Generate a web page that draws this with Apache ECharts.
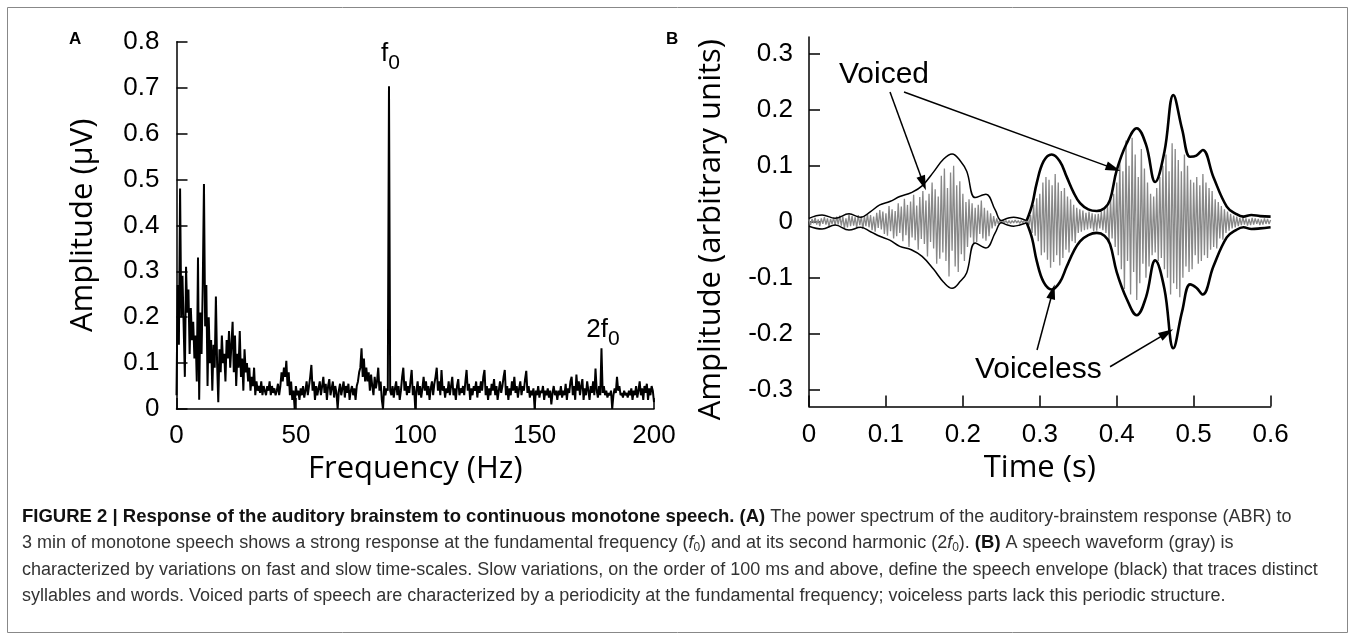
<!DOCTYPE html>
<html>
<head>
<meta charset="utf-8">
<script src="https://cdn.jsdelivr.net/npm/echarts@6/dist/echarts.min.js"></script>
<style>
html, body { margin: 0; padding: 0; background: #fff; }
#main { width: 1355px; height: 639px; }
</style>
</head>
<body>
<div id="main"></div>
<script>
// Panel A: power spectrum of the ABR, one value every 0.5 Hz from 0 to 200 Hz
const specStep = 0.5;
const spectrum = [
  0.03,0.27,0.14,0.48,0.2,0.29,0.18,0.07,0.31,0.21,0.26,0.12,0.22,0.15,0.19,0.11,0.16,0.06,0.33,0.02,
  0.21,0.12,0.27,0.49,0.18,0.27,0.05,0.2,0.1,0.15,0.04,0.14,0.09,0.245,0.1,0.015,0.13,0.08,0.16,0.1,
  0.12,0.06,0.15,0.11,0.17,0.09,0.14,0.19,0.08,0.16,0.05,0.12,0.09,0.17,0.07,0.11,0.04,0.13,0.08,0.1,
  0.06,0.09,0.04,0.07,0.05,0.09,0.03,0.06,0.04,0.05,0.035,0.06,0.03,0.05,0.04,0.03,0.05,0.04,0.06,0.03,
  0.05,0.035,0.045,0.03,0.04,0.055,0.03,0.05,0.08,0.06,0.09,0.07,0.105,0.05,0.08,0.03,0.06,0.02,0.04,0.0,
  0.05,0.03,0.04,0.02,0.045,0.03,0.05,0.025,0.04,0.06,0.03,0.05,0.07,0.096,0.04,0.06,0.02,0.05,0.03,0.045,
  0.06,0.03,0.05,0.07,0.035,0.055,0.02,0.05,0.065,0.03,0.045,0.06,0.025,0.05,0.035,0.0,0.04,0.055,0.03,0.045,
  0.06,0.025,0.05,0.035,0.055,0.02,0.04,0.05,0.03,0.045,0.02,0.05,0.06,0.08,0.09,0.132,0.07,0.11,0.06,0.09,
  0.06,0.08,0.04,0.075,0.05,0.03,0.07,0.045,0.06,0.09,0.04,0.06,0.02,0.0,0.05,0.03,0.045,0.04,0.703,0.04,
  0.03,0.05,0.025,0.045,0.06,0.03,0.05,0.02,0.04,0.07,0.09,0.04,0.06,0.03,0.05,0.035,0.06,0.085,0.03,0.05,
  0.0,0.04,0.06,0.03,0.05,0.025,0.045,0.07,0.04,0.06,0.03,0.05,0.02,0.045,0.06,0.03,0.055,0.07,0.09,0.04,
  0.06,0.03,0.085,0.04,0.05,0.025,0.045,0.035,0.06,0.03,0.05,0.07,0.03,0.045,0.02,0.05,0.065,0.03,0.045,0.035,
  0.05,0.03,0.06,0.085,0.04,0.055,0.02,0.045,0.03,0.05,0.04,0.06,0.025,0.05,0.035,0.06,0.04,0.07,0.085,0.03,
  0.05,0.02,0.045,0.03,0.055,0.04,0.065,0.03,0.05,0.02,0.04,0.06,0.035,0.05,0.07,0.085,0.03,0.05,0.02,0.045,
  0.03,0.06,0.04,0.07,0.035,0.05,0.025,0.045,0.06,0.03,0.05,0.04,0.065,0.083,0.035,0.05,0.025,0.04,0.03,0.045,
  0.0,0.04,0.03,0.05,0.025,0.04,0.035,0.05,0.02,0.04,0.03,0.045,0.025,0.04,0.01,0.035,0.05,0.03,0.04,0.02,
  0.04,0.03,0.05,0.025,0.04,0.03,0.055,0.02,0.045,0.035,0.06,0.07,0.03,0.05,0.02,0.075,0.04,0.06,0.03,0.05,
  0.065,0.02,0.045,0.03,0.06,0.04,0.02,0.05,0.035,0.06,0.03,0.088,0.04,0.025,0.05,0.03,0.132,0.035,0.05,0.03,
  0.04,0.025,0.035,0.03,0.04,0.0,0.03,0.045,0.035,0.07,0.04,0.05,0.03,0.035,0.025,0.04,0.03,0.035,0.025,0.04,
  0.03,0.045,0.02,0.04,0.03,0.05,0.025,0.04,0.06,0.03,0.045,0.02,0.05,0.035,0.055,0.02,0.045,0.03,0.05,0.04,
  0.015
];
const f0 = 89;
const f2 = 178;
const f2Peak = 0.132;

// Panel B: speech waveform, one sample every 2 ms from 0 to 0.6 s
const waveStep = 0.002;
const wave = [
  0.004,-0.006,0.005,-0.003,0.007,-0.005,0.004,-0.008,0.006,-0.004,
  0.008,-0.005,0.006,-0.009,0.005,-0.004,0.007,-0.006,0.009,-0.005,
  0.011,-0.007,0.009,-0.012,0.006,-0.01,0.013,-0.008,0.01,-0.007,
  0.008,-0.011,0.012,-0.006,0.009,-0.013,0.01,-0.008,0.014,-0.01,
  0.012,-0.015,0.009,-0.018,0.016,-0.011,0.021,-0.014,0.018,-0.022,
  0.015,-0.025,0.028,-0.017,0.022,-0.03,0.019,-0.026,0.033,-0.02,
  0.027,-0.035,0.041,-0.024,0.03,-0.045,0.036,-0.028,0.048,-0.033,
  0.029,-0.05,0.044,-0.031,0.055,-0.04,0.038,-0.062,0.05,-0.036,
  0.07,-0.048,0.058,-0.075,0.045,-0.066,0.082,-0.055,0.095,-0.07,
  0.06,-0.098,0.088,-0.052,0.1,-0.08,0.065,-0.09,0.072,-0.058,
  0.05,-0.07,0.035,-0.045,0.04,-0.028,0.033,-0.04,0.025,-0.036,
  0.03,-0.022,0.038,-0.03,0.025,-0.034,0.02,-0.026,0.015,-0.012,
  0.01,-0.008,0.006,-0.004,0.003,-0.002,0.003,-0.002,0.002,-0.003,
  0.002,-0.003,0.002,-0.002,0.003,-0.002,0.002,-0.003,0.002,-0.002,
  0.003,-0.002,0.004,-0.006,0.012,-0.02,0.03,-0.025,0.042,-0.035,
  0.05,-0.06,0.07,-0.055,0.08,-0.068,0.075,-0.082,0.065,-0.072,
  0.085,-0.06,0.07,-0.078,0.055,-0.065,0.06,-0.05,0.045,-0.055,
  0.04,-0.035,0.03,-0.038,0.025,-0.02,0.022,-0.018,0.02,-0.015,
  0.016,-0.014,0.018,-0.012,0.015,-0.017,0.013,-0.016,0.014,-0.012,
  0.018,-0.015,0.022,-0.02,0.028,-0.035,0.04,-0.03,0.05,-0.045,
  0.07,-0.06,0.11,-0.085,0.09,-0.12,0.145,-0.07,0.1,-0.13,
  0.15,-0.09,0.12,-0.14,0.08,-0.11,0.13,-0.075,0.095,-0.1,
  0.07,-0.08,0.05,-0.06,0.045,-0.055,0.06,-0.07,0.08,-0.065,
  0.1,-0.085,0.12,-0.1,0.09,-0.13,0.14,-0.11,0.13,-0.12,
  0.11,-0.135,0.09,-0.1,0.12,-0.08,0.1,-0.09,0.075,-0.085,
  0.07,-0.06,0.08,-0.075,0.065,-0.07,0.085,-0.06,0.07,-0.065,
  0.06,-0.05,0.055,-0.045,0.04,-0.048,0.035,-0.03,0.028,-0.032,
  0.022,-0.02,0.018,-0.016,0.014,-0.012,0.011,-0.01,0.009,-0.008,
  0.007,-0.006,0.008,-0.005,0.006,-0.007,0.005,-0.006,0.007,-0.005,
  0.006,-0.004,0.005,-0.006,0.004,-0.005,0.006,-0.004,0.005,-0.004,
  0.003
];

// speech envelope, first syllable (thin line)
const envThinT  = [0, 0.017, 0.034, 0.052, 0.067, 0.08, 0.092, 0.105, 0.118, 0.133, 0.147, 0.162, 0.175, 0.186, 0.197, 0.205, 0.216, 0.23, 0.242, 0.25, 0.258, 0.266, 0.274, 0.283];
const envThinUp = [0.006, 0.012, 0.006, 0.014, 0.008, 0.018, 0.03, 0.036, 0.045, 0.052, 0.064, 0.089, 0.112, 0.121, 0.108, 0.09, 0.043, 0.049, 0.021, 0.002, 0.006, 0.008, 0.006, 0.002];
const envThinLo = [-0.008, -0.013, -0.006, -0.015, -0.01, -0.018, -0.026, -0.033, -0.044, -0.05, -0.062, -0.085, -0.108, -0.119, -0.106, -0.091, -0.038, -0.047, -0.02, -0.002, -0.006, -0.008, -0.006, -0.002];
// speech envelope, rest of the utterance (thick line)
const envThickT  = [0.283, 0.29, 0.296, 0.305, 0.3155, 0.326, 0.335, 0.344, 0.3523, 0.363, 0.374, 0.384, 0.3913, 0.4, 0.413, 0.426, 0.438, 0.45, 0.462, 0.4736, 0.485, 0.4953, 0.5035, 0.5118, 0.5256, 0.543, 0.555, 0.5646, 0.575, 0.5863, 0.6];
const envThickUp = [0.002, 0.03, 0.069, 0.108, 0.12, 0.108, 0.08, 0.052, 0.033, 0.022, 0.019, 0.024, 0.039, 0.092, 0.14, 0.167, 0.138, 0.071, 0.125, 0.226, 0.165, 0.116, 0.118, 0.128, 0.08, 0.027, 0.014, 0.009, 0.012, 0.01, 0.009];
const envThickLo = [-0.002, -0.03, -0.07, -0.108, -0.121, -0.108, -0.08, -0.053, -0.035, -0.024, -0.02, -0.025, -0.04, -0.09, -0.138, -0.167, -0.135, -0.069, -0.12, -0.226, -0.16, -0.112, -0.118, -0.13, -0.08, -0.028, -0.015, -0.01, -0.013, -0.012, -0.01];

const ampTicksB = [-0.3, -0.2, -0.1, 0, 0.1, 0.2, 0.3];

// annotation arrows: [from, to] in panel B data coordinates
const voicedArrows = [[[0.1053, 0.2316], [0.1486, 0.0686]], [[0.1235, 0.2316], [0.3956, 0.0953]]];
const voicelessArrows = [[[0.2964, -0.229], [0.3167, -0.125]], [[0.3913, -0.259], [0.4649, -0.199]]];

const tickFont = 'Liberation Sans, Arial, sans-serif';
const nameFont = 'Open Sans, sans-serif';

const specData = spectrum.map((v, i) => [i * specStep, v]);
const waveData = wave.map((v, i) => [i * waveStep, v]);
const pair = (t, v) => t.map((x, i) => [x, v[i]]);

function axisBase(grid) {
  return {
    gridIndex: grid,
    type: 'value',
    axisLine: { onZero: false, lineStyle: { color: '#000', width: 1.5 } },
    axisTick: { inside: true, length: 11, lineStyle: { color: '#000', width: 1.5 } },
    axisLabel: { color: '#000', fontSize: 26, fontFamily: tickFont },
    splitLine: { show: false },
    nameLocation: 'middle',
    nameTextStyle: { color: '#000', fontSize: 31, fontFamily: nameFont }
  };
}

function arrowLines(list) {
  return list.map(a => [
    { coord: a[0], symbol: 'none' },
    { coord: a[1], symbol: 'triangle', symbolSize: [9, 15] }
  ]);
}

// invisible anchor so the label is still drawn
const hiddenAnchor = { symbol: 'circle', symbolSize: 2, itemStyle: { color: 'rgba(0,0,0,0)' } };

const myChart = echarts.init(document.getElementById('main'));

myChart.setOption({
  animation: false,
  backgroundColor: '#fff',
  grid: [
    { left: 176.5, top: 41.7, width: 477.5, height: 367.3 },
    { left: 809, top: 36.9, width: 461.6, height: 369.6 }
  ],
  xAxis: [
    Object.assign(axisBase(0), {
      min: 0, max: 200, interval: 50,
      name: 'Frequency (Hz)', nameGap: 42,
      axisLabel: { color: '#000', fontSize: 26, fontFamily: tickFont, margin: 14 }
    }),
    Object.assign(axisBase(1), {
      min: 0, max: 0.6, interval: 0.1,
      name: 'Time (s)', nameGap: 42,
      axisLabel: { color: '#000', fontSize: 26, fontFamily: tickFont, margin: 15 }
    })
  ],
  yAxis: [
    Object.assign(axisBase(0), {
      min: 0, max: 0.8, interval: 0.1,
      name: 'Amplitude (\u00b5V)', nameGap: 78,
      axisLabel: { color: '#000', fontSize: 26, fontFamily: tickFont, margin: 17 }
    }),
    Object.assign(axisBase(1), {
      min: -0.33, max: 0.33,
      name: 'Amplitude (arbitrary units)', nameGap: 82,
      nameTextStyle: { color: '#000', fontSize: 31, fontFamily: nameFont, padding: [0, 16, 0, 0] },
      axisTick: { inside: true, length: 11, lineStyle: { color: '#000', width: 1.5 }, customValues: ampTicksB },
      axisLabel: { color: '#000', fontSize: 26, fontFamily: tickFont, margin: 16, customValues: ampTicksB }
    })
  ],
  series: [
    {
      type: 'line', xAxisIndex: 0, yAxisIndex: 0,
      data: specData, showSymbol: false, symbol: 'none',
      lineStyle: { color: '#000', width: 2 },
      markPoint: Object.assign({}, hiddenAnchor, {
        label: {
          show: true, position: 'inside', color: '#000',
          rich: {
            a: { fontSize: 26, fontFamily: tickFont, color: '#000', padding: [0, 0, 10, 0] },
            b: { fontSize: 21, fontFamily: tickFont, color: '#000', padding: [10, 0, 0, 0] }
          }
        },
        data: [
          { coord: [f0 + 0.6, 0.763], label: { formatter: '{a|f}{b|0}' } },
          { coord: [f2 + 0.6, f2Peak + 0.03], label: { formatter: '{a|2f}{b|0}' } }
        ]
      })
    },
    {
      type: 'line', xAxisIndex: 1, yAxisIndex: 1,
      data: waveData, showSymbol: false, symbol: 'none',
      lineStyle: { color: '#888', width: 1.3 }
    },
    {
      type: 'line', xAxisIndex: 1, yAxisIndex: 1, data: pair(envThinT, envThinUp),
      symbol: 'none', smooth: 0.4, lineStyle: { color: '#000', width: 1.5 }
    },
    {
      type: 'line', xAxisIndex: 1, yAxisIndex: 1, data: pair(envThinT, envThinLo),
      symbol: 'none', smooth: 0.4, lineStyle: { color: '#000', width: 1.5 }
    },
    {
      type: 'line', xAxisIndex: 1, yAxisIndex: 1, data: pair(envThickT, envThickUp),
      symbol: 'none', smooth: 0.4, lineStyle: { color: '#000', width: 2.6 }
    },
    {
      type: 'line', xAxisIndex: 1, yAxisIndex: 1, data: pair(envThickT, envThickLo),
      symbol: 'none', smooth: 0.4, lineStyle: { color: '#000', width: 2.6 },
      markLine: {
        silent: true,
        symbol: ['none', 'triangle'],
        label: { show: false },
        lineStyle: { color: '#000', width: 1.5, type: 'solid' },
        itemStyle: { color: '#000' },
        data: arrowLines(voicedArrows).concat(arrowLines(voicelessArrows))
      },
      markPoint: Object.assign({}, hiddenAnchor, {
        label: { show: true, position: 'inside', color: '#000', fontSize: 30, fontFamily: tickFont },
        data: [
          { coord: [0.0975, 0.262], label: { formatter: 'Voiced' } },
          { coord: [0.298, -0.265], label: { formatter: 'Voiceless' } }
        ]
      })
    }
  ],
  graphic: [
    {
      type: 'rect', silent: true,
      shape: { x: 7.5, y: 7.5, width: 1340, height: 625 },
      style: { fill: 'none', stroke: '#888', lineWidth: 1 }
    },
    {
      type: 'text', x: 69, y: 39,
      style: { text: 'A', fill: '#000', font: 'bold 17px Liberation Sans, Arial, sans-serif', verticalAlign: 'middle' }
    },
    {
      type: 'text', x: 666, y: 39,
      style: { text: 'B', fill: '#000', font: 'bold 17px Liberation Sans, Arial, sans-serif', verticalAlign: 'middle' }
    },
    {
      type: 'group', x: 22, y: 517,
      children: [
        '{b|FIGURE 2 | Response of the auditory brainstem to continuous monotone speech. (A)}{r| The power spectrum of the auditory-brainstem response (ABR) to}',
        '{r|3 min of monotone speech shows a strong response at the fundamental frequency (}{i|f}{s|0}{r|) and at its second harmonic (2}{i|f}{s|0}{r|). }{b|(B)}{r| A speech waveform (gray) is}',
        '{r|characterized by variations on fast and slow time-scales. Slow variations, on the order of 100 ms and above, define the speech envelope (black) that traces distinct}',
        '{r|syllables and words. Voiced parts of speech are characterized by a periodicity at the fundamental frequency; voiceless parts lack this periodic structure.}'
      ].map((line, k) => ({
        type: 'text', x: 0, y: k * 26.4,
        style: {
          text: line,
          verticalAlign: 'middle',
          fill: '#222',
          font: '18px Liberation Sans, Arial, sans-serif',
          rich: {
            b: { fontSize: 18.5, fontWeight: 'bold', fontFamily: tickFont, fill: '#111' },
            r: { fontSize: 18, fontFamily: tickFont, fill: '#333' },
            i: { fontSize: 18, fontStyle: 'italic', fontFamily: tickFont, fill: '#333' },
            s: { fontSize: 12, fontFamily: tickFont, fill: '#333', padding: [9, 0, 0, 0] }
          }
        }
      }))
    }
  ]
});
</script>
</body>
</html>
